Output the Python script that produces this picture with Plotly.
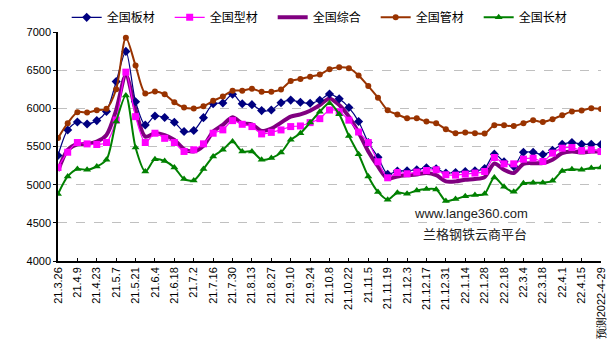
import plotly.graph_objects as go

dates = ["21.3.26","21.4.2","21.4.9","21.4.16","21.4.23","21.4.30","21.5.7","21.5.14","21.5.21","21.5.28",
         "21.6.4","21.6.11","21.6.18","21.6.25","21.7.2","21.7.9","21.7.16","21.7.23","21.7.30","21.8.6",
         "21.8.13","21.8.20","21.8.27","21.9.3","21.9.10","21.9.17","21.9.24","21.10.1","21.10.8","21.10.15",
         "21.10.22","21.10.29","21.11.5","21.11.12","21.11.19","21.11.26","21.12.3","21.12.10","21.12.17","21.12.24",
         "21.12.31","22.1.7","22.1.14","22.1.21","22.1.28","22.2.11","22.2.18","22.2.25","22.3.4","22.3.11",
         "22.3.18","22.3.25","22.4.1","22.4.8","22.4.15","22.4.22","预测2022-4-29"]

plate = [5382,5717,5821,5795,5839,5960,6350,6746,6087,5782,5900,5880,5818,5696,5709,5878,6061,6070,6185,6061,
         6048,5970,5978,6074,6108,6080,6066,6105,6187,6124,6010,5828,5552,5360,5137,5178,5182,5195,5221,5208,
         5152,5160,5173,5182,5212,5400,5300,5240,5424,5424,5395,5450,5530,5552,5530,5528,5525]
section = [5225,5425,5552,5534,5526,5552,5847,6474,5891,5552,5674,5607,5552,5435,5457,5535,5674,5718,5839,5791,
           5761,5665,5685,5717,5761,5769,5813,5865,5978,5956,5845,5690,5552,5300,5090,5160,5143,5165,5186,5195,
           5130,5125,5138,5152,5173,5356,5273,5273,5334,5347,5304,5413,5478,5486,5447,5456,5434]
composite = [5180,5456,5530,5534,5565,5652,5978,6435,5978,5630,5674,5650,5587,5465,5435,5509,5696,5783,5883,5804,
             5791,5704,5736,5813,5891,5921,5969,6043,6130,6043,5891,5682,5434,5239,5080,5108,5123,5134,5152,5124,
             5043,5043,5065,5073,5099,5278,5195,5152,5273,5282,5282,5326,5413,5434,5421,5434,5434]
pipe = [5610,5805,5950,5945,5975,5995,6250,6925,6560,6195,6220,6183,6079,6011,5998,6027,6098,6156,6231,6231,
        6256,6218,6218,6248,6357,6385,6415,6444,6513,6539,6526,6431,6291,6139,5975,5920,5870,5870,5826,5804,
        5726,5674,5685,5674,5670,5780,5778,5767,5804,5843,5820,5858,5908,5960,5972,6000,5990]
long_ = [4877,5108,5204,5195,5238,5326,5826,6169,5486,5173,5334,5310,5226,5074,5056,5204,5370,5457,5565,5435,
         5435,5326,5348,5421,5587,5674,5813,5956,6065,5921,5639,5399,5108,4905,4804,4895,4882,4923,4943,4938,
         4786,4812,4847,4864,4880,5095,4973,4906,5017,5026,5026,5050,5178,5202,5195,5217,5226]

names = ["全国板材", "全国型材", "全国综合", "全国管材", "全国长材"]
yticks = [4000, 4500, 5000, 5500, 6000, 6500, 7000]

fig = go.Figure()
sm = 0.8
fig.add_trace(go.Scatter(x=dates, y=composite, name=names[2], mode="lines", legendrank=3,
                         line=dict(color="#800080", width=4, shape="spline", smoothing=sm)))
fig.add_trace(go.Scatter(x=dates, y=plate, name=names[0], mode="lines+markers", legendrank=1,
                         line=dict(color="#000080", width=1.2, shape="spline", smoothing=sm),
                         marker=dict(symbol="diamond", size=7, color="#000080")))
fig.add_trace(go.Scatter(x=dates, y=section, name=names[1], mode="lines+markers", legendrank=2,
                         line=dict(color="#FF00FF", width=1.2, shape="spline", smoothing=sm),
                         marker=dict(symbol="square", size=7, color="#FF00FF")))
fig.add_trace(go.Scatter(x=dates, y=pipe, name=names[3], mode="lines+markers", legendrank=4,
                         line=dict(color="#993300", width=2, shape="spline", smoothing=sm),
                         marker=dict(symbol="circle", size=6, color="#993300")))
fig.add_trace(go.Scatter(x=dates, y=long_, name=names[4], mode="lines+markers", legendrank=5,
                         line=dict(color="#008000", width=2, shape="spline", smoothing=sm),
                         marker=dict(symbol="triangle-up", size=7, color="#008000")))

fig.update_layout(
    width=616, height=353,
    margin=dict(l=58, r=15, t=32, b=92, autoexpand=False),
    paper_bgcolor="white", plot_bgcolor="white",
    font=dict(family="Liberation Sans, Arial, sans-serif", size=11, color="black"),
    showlegend=True,
    legend=dict(orientation="h", x=0.016, y=1.064, xanchor="left", yanchor="middle",
                font=dict(family="Noto Sans CJK SC", size=12, color="black"),
                entrywidth=58, entrywidthmode="pixels", itemwidth=30,
                bgcolor="rgba(0,0,0,0)"),
)
fig.add_annotation(text="www.lange360.com", xref="paper", yref="paper",
                   x=(530 - 58) / 543, y=(261.5 - 223) / 229.8, showarrow=False,
                   font=dict(family="Liberation Sans, Arial", size=13, color="#222"))
fig.add_annotation(text="兰格钢铁云商平台", xref="paper", yref="paper",
                   x=(529 - 58) / 543, y=(261.5 - 245) / 229.8, showarrow=False,
                   font=dict(family="Noto Sans CJK SC", size=13, color="#222"))

fig.update_xaxes(type="category", range=[0, 56],
                 tickmode="array", tickvals=dates[::2], ticktext=dates[::2],
                 tickangle=-90, ticks="inside", ticklen=3, tickcolor="black",
                 showline=True, linecolor="black", linewidth=1.5,
                 showgrid=False, zeroline=False,
                 tickfont=dict(size=11, family="Liberation Sans, Arial"))
fig.update_yaxes(range=[4000, 7000], tickvals=yticks, ticks="outside", ticklen=3,
                 tickcolor="black", showline=True, linecolor="black", linewidth=1.5,
                 showgrid=True, gridcolor="#c0c0c0", griddash="dash", gridwidth=1,
                 zeroline=False, tickfont=dict(size=11, family="Liberation Sans, Arial"))

fig.write_html("out.html")
